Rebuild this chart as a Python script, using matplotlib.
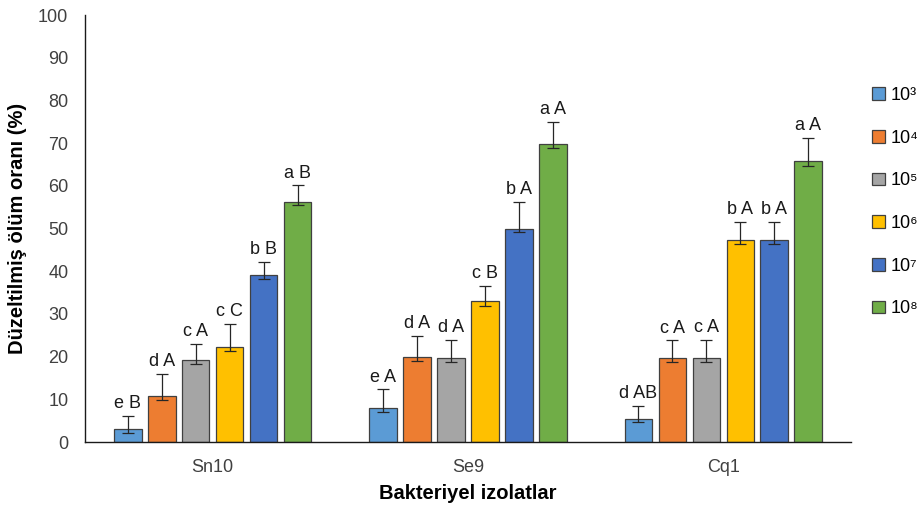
import matplotlib.pyplot as plt
import numpy as np

plt.rcParams['font.family'] = ['Liberation Sans', 'DejaVu Sans']

# data
isolates = ['Sn10', 'Se9', 'Cq1']
doses = ['10³', '10⁴', '10⁵', '10⁶', '10⁷', '10⁸']
colors = ['#5B9BD5', '#ED7D31', '#A5A5A5', '#FFC000', '#4472C4', '#70AD47']

# mortality per dose, one list per dose (Sn10, Se9, Cq1)
vals = [
    [3.0, 8.0, 5.5],
    [10.8, 19.8, 19.6],
    [19.1, 19.6, 19.6],
    [22.3, 33.0, 47.2],
    [39.0, 50.0, 47.2],
    [56.3, 69.7, 65.7],
]
err_up = [
    [3.2, 4.3, 3.0],
    [5.1, 5.1, 4.2],
    [3.8, 4.4, 4.4],
    [5.3, 3.6, 4.4],
    [3.2, 6.3, 4.4],
    [3.8, 5.3, 5.6],
]
err_lo = [
    [0.9, 0.9, 0.9],
    [0.9, 0.8, 0.9],
    [0.9, 0.9, 0.9],
    [0.9, 1.2, 0.8],
    [0.9, 0.9, 0.8],
    [0.9, 0.9, 1.1],
]
letters = [
    ['e B', 'e A', 'd AB'],
    ['d A', 'd A', 'c A'],
    ['c A', 'd A', 'c A'],
    ['c C', 'c B', 'b A'],
    ['b B', 'b A', 'b A'],
    ['a B', 'a A', 'a A'],
]

fig = plt.figure(figsize=(9.19, 5.09), dpi=100)
ax = fig.add_axes([0.0925, 0.1316, 0.8335, 0.8389])

x = np.arange(len(isolates))
step = 0.133
width = 0.108
for i in range(len(doses)):
    pos = x + (i - 2.5) * step
    ax.bar(pos, vals[i], width, color=colors[i], edgecolor='#404040',
           linewidth=0.9, label=doses[i], zorder=2)
    ax.errorbar(pos, vals[i], yerr=[err_lo[i], err_up[i]], fmt='none',
                ecolor='#262626', elinewidth=0.9, capsize=4, capthick=0.9, zorder=3)
    for j in range(len(isolates)):
        ax.text(pos[j], vals[i][j] + err_up[i][j] + 0.9, letters[i][j],
                ha='center', va='bottom', fontsize=13, color='#1a1a1a')

ax.set_xlim(-0.5, 2.5)
ax.set_ylim(0, 100)
ax.set_yticks(range(0, 101, 10))
ax.set_xticks(x)
ax.set_xticklabels(isolates)
ax.tick_params(axis='both', length=0, labelsize=13, colors='#404040')
ax.tick_params(axis='y', pad=12)
ax.tick_params(axis='x', pad=12)
for s in ['top', 'right']:
    ax.spines[s].set_visible(False)
for s in ['left', 'bottom']:
    ax.spines[s].set_color('#1a1a1a')
    ax.spines[s].set_linewidth(1.0)

ax.set_ylabel('Düzeltilmiş ölüm oranı (%)', fontsize=14.5, fontweight='bold', labelpad=8)
ax.set_xlabel('Bakteriyel izolatlar', fontsize=14.5, fontweight='bold', labelpad=6)

fig.legend(loc='center left', bbox_to_anchor=(0.949, 0.603), frameon=False,
           fontsize=13, handlelength=0.7, handleheight=0.7, handletextpad=0.35,
           labelspacing=1.42, borderaxespad=0, borderpad=0)

fig.savefig('out.png', dpi=100)
